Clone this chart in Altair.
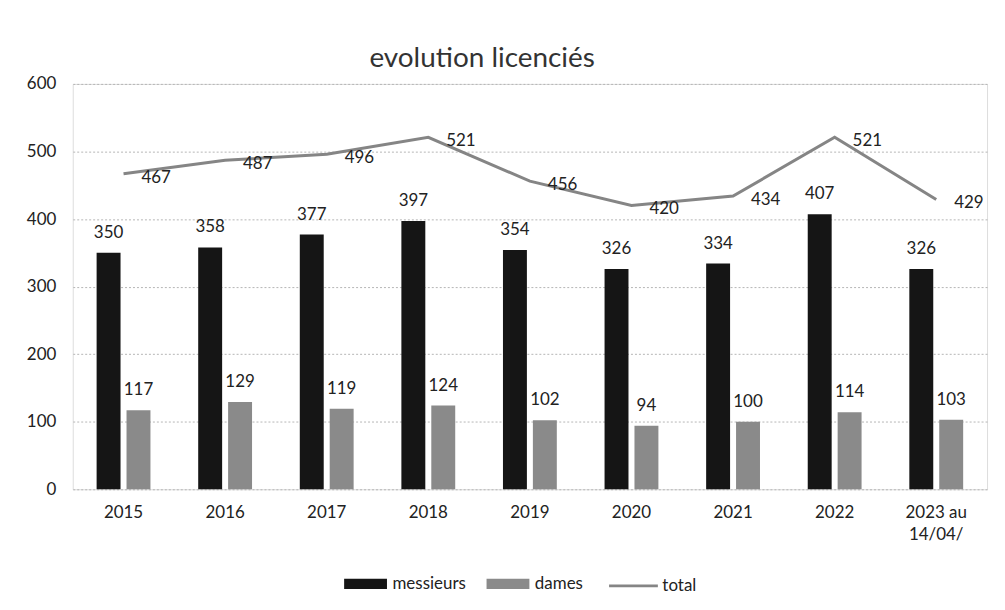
import altair as alt
import pandas as pd

categories = ["2015", "2016", "2017", "2018", "2019", "2020", "2021", "2022", "2023 au 14/04/"]
messieurs = [350, 358, 377, 397, 354, 326, 334, 407, 326]
dames = [117, 129, 119, 124, 102, 94, 100, 114, 103]
total = [467, 487, 496, 521, 456, 420, 434, 521, 429]
bar_series = ["messieurs", "dames"]
line_series = ["total"]

rows = []
for i, c in enumerate(categories):
    rows.append({"annee": c, "serie": "messieurs", "valeur": messieurs[i]})
    rows.append({"annee": c, "serie": "dames", "valeur": dames[i]})
    rows.append({"annee": c, "serie": "total", "valeur": total[i]})
df = pd.DataFrame(rows)

FONT = "Lato"
TXT = "#222222"

x_enc = alt.X(
    "annee:N",
    sort=categories,
    scale=alt.Scale(paddingInner=0.47, paddingOuter=0.235),
    axis=alt.Axis(
        title=None, labelAngle=0, ticks=False, domain=False, grid=False,
        labelPadding=15, labelFontSize=17, labelFont=FONT, labelColor=TXT,
        labelExpr="datum.value == '2023 au 14/04/' ? ['2023 au', '14/04/'] : datum.label",
        labelLineHeight=22,
    ),
)
y_enc = alt.Y(
    "valeur:Q",
    scale=alt.Scale(domain=[0, 600], nice=False),
    axis=alt.Axis(
        title=None, values=[0, 100, 200, 300, 400, 500, 600], ticks=False, domain=False,
        grid=True, gridColor="#b5b5b5", gridDash=[2, 2], gridWidth=1,
        labelPadding=17, labelFontSize=17, labelFont=FONT, labelColor=TXT,
    ),
)

base = alt.Chart(df)

bars_data = base.transform_filter("datum.serie != 'total'")
offset = alt.XOffset("serie:N", sort=bar_series,
                     scale=alt.Scale(paddingInner=0.2, paddingOuter=0))

bar_legend = alt.Legend(
    title=None, orient="none", direction="horizontal", legendX=272, legendY=480,
    labelFont=FONT, labelFontSize=17, labelColor=TXT, columnPadding=20,
    symbolType="M-1,-0.24H1V0.24H-1Z", symbolSize=1850, symbolStrokeWidth=0,
    symbolOpacity=1, labelOffset=5,
)
line_legend = alt.Legend(
    title=None, orient="none", direction="horizontal", legendX=537, legendY=478,
    labelFont=FONT, labelFontSize=17, labelColor=TXT,
    symbolType="stroke", symbolSize=2400, symbolStrokeWidth=3,
    symbolStrokeColor="#858585", labelOffset=3,
)

bars = bars_data.mark_bar().encode(
    x=x_enc, y=y_enc, xOffset=offset,
    fill=alt.Fill("serie:N", sort=bar_series,
                  scale=alt.Scale(domain=bar_series, range=["#151515", "#8a8a8a"]),
                  legend=bar_legend),
)
bar_labels = bars_data.mark_text(dy=-20, fontSize=17, font=FONT, color=TXT).encode(
    x=x_enc, y=y_enc, xOffset=offset, text="valeur:Q",
)

line_data = base.transform_filter("datum.serie == 'total'")
line = line_data.mark_line(strokeWidth=3).encode(
    x=x_enc, y=y_enc,
    stroke=alt.Stroke("serie:N",
                      scale=alt.Scale(domain=line_series, range=["#858585"]),
                      legend=line_legend),
)
line_labels = line_data.mark_text(align="left", baseline="middle", dx=18, dy=4,
                                  fontSize=17, font=FONT, color=TXT).encode(
    x=x_enc, y=y_enc, text="valeur:Q",
)

chart = alt.layer(bars, bar_labels, line, line_labels).properties(
    width=918, height=407,
    title=alt.TitleParams("evolution licenciés", fontSize=28, font=FONT, fontWeight="normal",
                          color="#333333", anchor="middle", dx=-48, offset=2),
    autosize=alt.AutoSizeParams(type="none"),
    padding={"left": 65, "top": 75, "right": 10, "bottom": 120},
).configure_view(stroke=None).configure(background="white")

chart.save("out.html", embed_options={"renderer": "svg", "actions": False})
